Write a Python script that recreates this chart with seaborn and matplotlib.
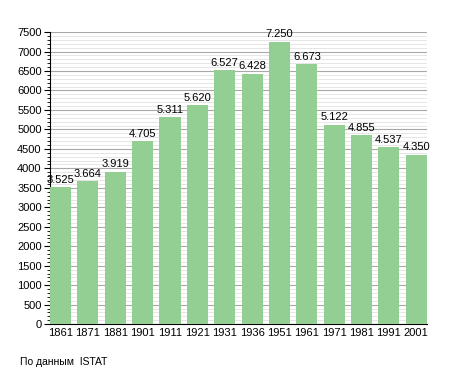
import matplotlib
matplotlib.use('Agg')
import pandas as pd
import seaborn as sns
import matplotlib.pyplot as plt
from matplotlib.ticker import MultipleLocator

years = ['1861', '1871', '1881', '1901', '1911', '1921', '1931',
         '1936', '1951', '1961', '1971', '1981', '1991', '2001']
population = [3525, 3664, 3919, 4705, 5311, 5620, 6527,
              6428, 7250, 6673, 5122, 4855, 4537, 4350]
source_note = 'По данным  ISTAT'


def main():
    df = pd.DataFrame({'year': years, 'pop': population})

    sns.set_style('white')
    plt.rcParams['font.family'] = ['Liberation Sans', 'DejaVu Sans']
    plt.rcParams['text.color'] = 'black'
    plt.rcParams['xtick.color'] = 'black'
    plt.rcParams['ytick.color'] = 'black'

    fig = plt.figure(figsize=(4.55, 3.73), dpi=100)
    ax = fig.add_axes([0.11, 0.131, 0.828, 0.783])

    sns.barplot(x='year', y='pop', data=df, color='#93cf93',
                saturation=1, width=0.77, linewidth=0, ax=ax, zorder=3)

    ax.set_ylim(0, 7500)
    ax.set_xlim(-0.385, len(years) - 1 + 0.385)
    ax.yaxis.set_major_locator(MultipleLocator(500))
    ax.yaxis.set_minor_locator(MultipleLocator(100))
    ax.grid(which='major', axis='y', color='#a8a8a8', linewidth=0.8, zorder=0)
    ax.grid(which='minor', axis='y', color='#e2e2e2', linewidth=0.6, zorder=0)
    ax.set_axisbelow(True)

    for side in ['top', 'right']:
        ax.spines[side].set_visible(False)
    ax.spines['left'].set_color('black')
    ax.spines['bottom'].set_color('black')
    ax.tick_params(axis='y', which='major', length=4, width=0.8, direction='out',
                   labelsize=8, left=True, pad=2)
    ax.tick_params(axis='y', which='minor', length=2, width=0.6, direction='out', left=True)
    ax.tick_params(axis='x', length=0, labelsize=8, pad=3)

    for i, v in enumerate(population):
        ax.text(i, v + 60, f'{v:,}'.replace(',', '.'), ha='center', va='bottom',
                fontsize=8)

    ax.set_xlabel('')
    ax.set_ylabel('')

    fig.text(20 / 455, 1 - 362 / 373, source_note, fontsize=7.5, va='center')

    plt.savefig('out.png', dpi=100)


if __name__ == '__main__':
    main()
